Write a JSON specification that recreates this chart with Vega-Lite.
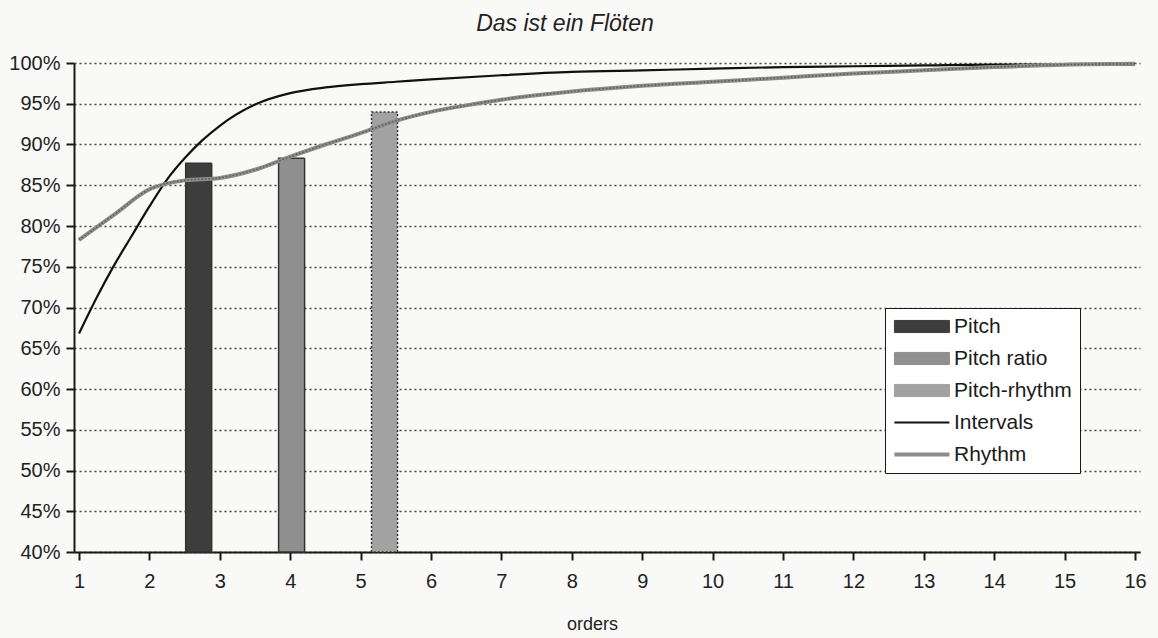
{
  "$schema": "https://vega.github.io/schema/vega-lite/v6.json",
  "width": 1066,
  "height": 489,
  "autosize": {"type": "none"},
  "padding": {"left": 74, "top": 63, "right": 18, "bottom": 86},
  "background": "#f9f9f7",
  "title": {
    "text": "Das ist ein Flöten",
    "font": "Liberation Sans",
    "fontSize": 23,
    "fontStyle": "italic",
    "fontWeight": "normal",
    "color": "#222222",
    "anchor": "middle",
    "dx": -42,
    "offset": 17
  },
  "config": {
    "view": {"stroke": null},
    "axis": {
      "labelFont": "Liberation Sans",
      "labelFontSize": 20,
      "labelColor": "#222222",
      "titleFont": "Liberation Sans",
      "titleFontWeight": "normal",
      "titleColor": "#222222",
      "domainColor": "#1a1a1a",
      "domainWidth": 2,
      "tickColor": "#1a1a1a",
      "tickWidth": 2,
      "tickSize": 8
    },
    "legend": {
      "labelFont": "Liberation Sans",
      "labelFontSize": 21,
      "labelColor": "#1a1a1a"
    }
  },
  "datasets": {
    "bars": [
      {"series": "Pitch", "order": 2.70, "value": 0.877},
      {"series": "Pitch ratio", "order": 4.02, "value": 0.883},
      {"series": "Pitch-rhythm", "order": 5.34, "value": 0.940}
    ],
    "lines": [
      {"series": "Intervals", "order": 1, "value": 0.668},
      {"series": "Intervals", "order": 1.25, "value": 0.712},
      {"series": "Intervals", "order": 1.5, "value": 0.752},
      {"series": "Intervals", "order": 1.75, "value": 0.788},
      {"series": "Intervals", "order": 2, "value": 0.824},
      {"series": "Intervals", "order": 2.25, "value": 0.857},
      {"series": "Intervals", "order": 2.5, "value": 0.883},
      {"series": "Intervals", "order": 2.75, "value": 0.905},
      {"series": "Intervals", "order": 3, "value": 0.923},
      {"series": "Intervals", "order": 3.5, "value": 0.949},
      {"series": "Intervals", "order": 4, "value": 0.963},
      {"series": "Intervals", "order": 4.5, "value": 0.970},
      {"series": "Intervals", "order": 5, "value": 0.974},
      {"series": "Intervals", "order": 5.5, "value": 0.977},
      {"series": "Intervals", "order": 6, "value": 0.980},
      {"series": "Intervals", "order": 7, "value": 0.985},
      {"series": "Intervals", "order": 8, "value": 0.989},
      {"series": "Intervals", "order": 9, "value": 0.991},
      {"series": "Intervals", "order": 10, "value": 0.993},
      {"series": "Intervals", "order": 11, "value": 0.995},
      {"series": "Intervals", "order": 12, "value": 0.996},
      {"series": "Intervals", "order": 13, "value": 0.997},
      {"series": "Intervals", "order": 14, "value": 0.998},
      {"series": "Intervals", "order": 15, "value": 0.998},
      {"series": "Intervals", "order": 16, "value": 0.998},
      {"series": "Rhythm", "order": 1, "value": 0.783},
      {"series": "Rhythm", "order": 1.5, "value": 0.814},
      {"series": "Rhythm", "order": 2, "value": 0.845},
      {"series": "Rhythm", "order": 2.5, "value": 0.856},
      {"series": "Rhythm", "order": 3, "value": 0.859},
      {"series": "Rhythm", "order": 3.5, "value": 0.869},
      {"series": "Rhythm", "order": 4, "value": 0.885},
      {"series": "Rhythm", "order": 4.5, "value": 0.900},
      {"series": "Rhythm", "order": 5, "value": 0.914},
      {"series": "Rhythm", "order": 5.5, "value": 0.929},
      {"series": "Rhythm", "order": 6, "value": 0.940},
      {"series": "Rhythm", "order": 6.5, "value": 0.948},
      {"series": "Rhythm", "order": 7, "value": 0.955},
      {"series": "Rhythm", "order": 8, "value": 0.965},
      {"series": "Rhythm", "order": 9, "value": 0.972},
      {"series": "Rhythm", "order": 10, "value": 0.977},
      {"series": "Rhythm", "order": 11, "value": 0.982},
      {"series": "Rhythm", "order": 12, "value": 0.987},
      {"series": "Rhythm", "order": 13, "value": 0.991},
      {"series": "Rhythm", "order": 14, "value": 0.995},
      {"series": "Rhythm", "order": 15, "value": 0.998},
      {"series": "Rhythm", "order": 16, "value": 0.999}
    ]
  },
  "encoding": {
    "x": {
      "field": "order",
      "type": "quantitative",
      "scale": {"domain": [1, 16], "nice": false, "zero": false},
      "axis": {
        "title": "orders",
        "titleFontSize": 18,
        "titleX": 518,
        "titleY": 72,
        "titleBaseline": "middle",
        "values": [1,2,3,4,5,6,7,8,9,10,11,12,13,14,15,16],
        "format": "d",
        "labelPadding": 11,
        "grid": false,
        "labelFlush": false,
        "labelOverlap": false
      }
    },
    "y": {
      "field": "value",
      "type": "quantitative",
      "scale": {"domain": [0.4, 1.0], "nice": false, "zero": false},
      "axis": {
        "title": null,
        "format": ".0%",
        "values": [0.4,0.45,0.5,0.55,0.6,0.65,0.7,0.75,0.8,0.85,0.9,0.95,1.0],
        "labelPadding": 6,
        "grid": true,
        "gridColor": "#444444",
        "gridDash": [2, 3],
        "gridWidth": 1.3,
        "labelFlush": false,
        "labelOverlap": false
      }
    }
  },
  "layer": [
    {
      "data": {"name": "bars"},
      "mark": {"type": "bar", "width": 26, "stroke": "#333333", "strokeWidth": 1.5},
      "encoding": {
        "y2": {"datum": 0.4},
        "color": {
          "field": "series",
          "type": "nominal",
          "scale": {
            "domain": ["Pitch", "Pitch ratio", "Pitch-rhythm", "Intervals", "Rhythm"],
            "range": ["#3d3d3d", "#8f8f8f", "#a2a2a2", "#111111", "#8c8c8c"]
          },
          "legend": {
            "title": null,
            "orient": "none",
            "legendX": 811,
            "legendY": 245,
            "padding": 8,
            "rowPadding": 10,
            "strokeColor": "#1a1a1a",
            "fillColor": "#ffffff",
            "symbolType": "M-0.33,-0.22H1.67V0.22H-0.33Z",
            "symbolSize": 3025,
            "symbolStrokeWidth": 1,
            "labelOffset": 40,
            "encoding": {
              "symbols": {
                "shape": {"value": {"expr": "(datum.value === 'Intervals' || datum.value === 'Rhythm') ? 'M-0.33,0H1.67' : 'M-0.33,-0.22H1.67V0.22H-0.33Z'"}},
                "fill": {"value": {"expr": "(datum.value === 'Intervals' || datum.value === 'Rhythm') ? 'transparent' : scale('color', datum.value)"}},
                "stroke": {"value": {"expr": "(datum.value === 'Intervals' || datum.value === 'Rhythm') ? scale('color', datum.value) : '#333333'"}},
                "strokeWidth": {"value": {"expr": "datum.value === 'Rhythm' ? 4 : (datum.value === 'Intervals' ? 2 : 1)"}},
                "opacity": {"value": 1}
              }
            }
          }
        },
        "strokeDash": {
          "field": "series",
          "type": "nominal",
          "scale": {"domain": ["Pitch", "Pitch ratio", "Pitch-rhythm"], "range": [[1, 0], [1, 0], [2, 2]]},
          "legend": null
        }
      }
    },
    {
      "data": {"name": "lines"},
      "mark": {"type": "line", "interpolate": "monotone"},
      "encoding": {
        "color": {"field": "series", "type": "nominal"},
        "strokeWidth": {
          "field": "series",
          "type": "nominal",
          "scale": {"domain": ["Intervals", "Rhythm"], "range": [2.2, 4]},
          "legend": null
        }
      }
    },
    {
      "data": {"name": "lines"},
      "transform": [{"filter": "datum.series === 'Rhythm'"}],
      "mark": {"type": "line", "interpolate": "monotone", "stroke": "#5a5a5a", "strokeWidth": 1.5, "strokeDash": [1.5, 2]},
      "encoding": {}
    }
  ]
}
